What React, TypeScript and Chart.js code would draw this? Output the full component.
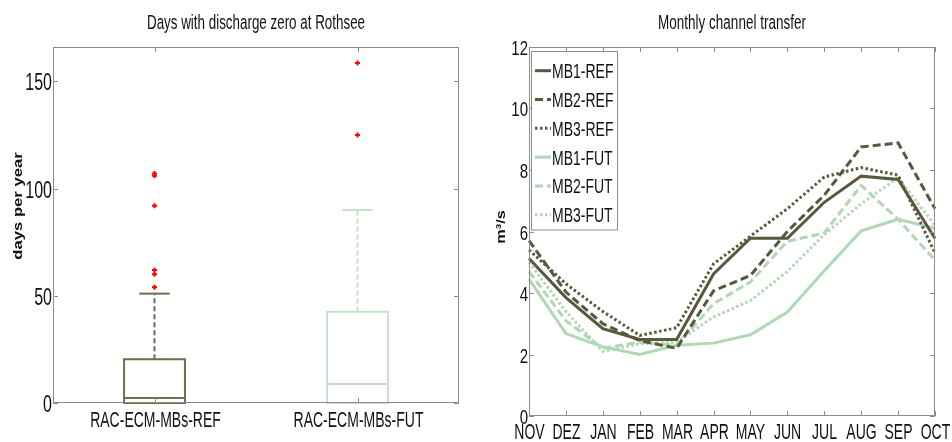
import React, { useEffect, useRef } from "react";
import { Chart, registerables } from "chart.js";

Chart.register(...registerables);

// ---------- Left chart data (box plot) ----------
const BOX_CATEGORIES = ["RAC-ECM-MBs-REF", "RAC-ECM-MBs-FUT"];
const BOX_Q1 = [0, 0];
const BOX_MEDIAN = [2.3, 8.9];
const BOX_Q3 = [20.4, 42.5];
const BOX_WHISKER_LOW = [0, 0];
const BOX_WHISKER_HIGH = [51, 90];
const OUTLIERS_REF = [54, 60, 62, 92, 106, 107];
const OUTLIERS_FUT = [125, 158.5];
const LEFT_Y_TICKS = [0, 50, 100, 150];

// ---------- Right chart data (lines) ----------
const MONTHS = ["NOV", "DEZ", "JAN", "FEB", "MAR", "APR", "MAY", "JUN", "JUL", "AUG", "SEP", "OCT"];
const MB1_REF = [5.12, 3.85, 2.84, 2.49, 2.49, 4.62, 5.78, 5.78, 6.95, 7.8, 7.69, 5.77];
const MB2_REF = [5.7, 4.03, 3.0, 2.45, 2.2, 4.07, 4.57, 6.0, 7.18, 8.75, 8.88, 6.74];
const MB3_REF = [5.4, 4.3, 3.4, 2.62, 2.87, 4.95, 5.85, 6.74, 7.77, 8.08, 7.83, 5.3];
const MB1_FUT = [4.45, 2.68, 2.25, 2.0, 2.3, 2.37, 2.64, 3.38, 4.72, 6.02, 6.4, 6.1];
const MB2_FUT = [4.7, 3.1, 2.2, 2.4, 2.3, 3.65, 4.36, 5.68, 5.95, 7.5, 6.4, 5.06];
const MB3_FUT = [5.0, 3.4, 2.1, 2.35, 2.4, 3.22, 3.75, 4.7, 5.9, 6.9, 7.75, 6.2];
const SERIES_NAMES = ["MB1-REF", "MB2-REF", "MB3-REF", "MB1-FUT", "MB2-FUT", "MB3-FUT"];
const RIGHT_Y_TICKS = [0, 2, 4, 6, 8, 10, 12];

const DARK = "#58583c";
const LIGHT = "#b0d8b3";
const BOX_DARK = "#6e6e50";
const BOX_LIGHT = "#c6e2c6";
const FRAME = "#8c8c8c";
const TEXT = "#111111";
const FONT = '"Liberation Sans", Arial, sans-serif';

function stretchedText(ctx: CanvasRenderingContext2D, text: string, x: number, y: number, size: number, k: number, align: CanvasTextAlign, bold = false) {
  ctx.save();
  ctx.translate(x, y);
  ctx.scale(1, k);
  ctx.font = `${bold ? "bold " : ""}${size}px ${FONT}`;
  ctx.textAlign = align;
  ctx.textBaseline = "alphabetic";
  ctx.fillStyle = TEXT;
  ctx.fillText(text, 0, 0);
  ctx.restore();
}

function verticalText(ctx: CanvasRenderingContext2D, text: string, x: number, y: number, size: number, k: number) {
  ctx.save();
  ctx.translate(x, y);
  ctx.rotate(-Math.PI / 2);
  ctx.scale(k, 1);
  ctx.font = `bold ${size}px ${FONT}`;
  ctx.textAlign = "center";
  ctx.textBaseline = "middle";
  ctx.fillStyle = TEXT;
  ctx.fillText(text, 0, 0);
  ctx.restore();
}

function seg(ctx: CanvasRenderingContext2D, x1: number, y1: number, x2: number, y2: number) {
  ctx.beginPath();
  ctx.moveTo(x1, y1);
  ctx.lineTo(x2, y2);
  ctx.stroke();
}

const boxPlugin = {
  id: "boxDraw",
  beforeDatasetsDraw(chart: any) {
    const { ctx, scales } = chart;
    const x = scales.x;
    const y = scales.y;
    ctx.save();
    BOX_CATEGORIES.forEach((_, i) => {
      const pos = i + 1;
      const color = i === 0 ? BOX_DARK : BOX_LIGHT;
      const cx = x.getPixelForValue(pos);
      const bl = x.getPixelForValue(pos - 0.15);
      const br = x.getPixelForValue(pos + 0.15);
      const cl = x.getPixelForValue(pos - 0.075);
      const cr = x.getPixelForValue(pos + 0.075);
      const yq1 = y.getPixelForValue(BOX_Q1[i]);
      const yq3 = y.getPixelForValue(BOX_Q3[i]);
      const ym = y.getPixelForValue(BOX_MEDIAN[i]);
      const ywh = y.getPixelForValue(BOX_WHISKER_HIGH[i]);
      const ywl = y.getPixelForValue(BOX_WHISKER_LOW[i]);
      ctx.strokeStyle = color;
      ctx.lineWidth = 2;
      ctx.setLineDash([5, 3]);
      seg(ctx, cx, yq3, cx, ywh);
      seg(ctx, cx, yq1, cx, ywl);
      ctx.setLineDash([]);
      seg(ctx, cl, ywh, cr, ywh);
      seg(ctx, cl, ywl, cr, ywl);
      ctx.strokeRect(bl, yq3, br - bl, yq1 - yq3);
      seg(ctx, bl, ym, br, ym);
    });
    ctx.restore();
  },
  afterDraw(chart: any) {
    const { ctx, chartArea: a, scales } = chart;
    const x = scales.x;
    const y = scales.y;
    ctx.save();
    ctx.strokeStyle = FRAME;
    ctx.lineWidth = 1;
    ctx.strokeRect(a.left + 0.5, a.top + 0.5, a.right - a.left - 1, a.bottom - a.top - 1);
    LEFT_Y_TICKS.forEach((v) => {
      const py = Math.round(y.getPixelForValue(v)) + 0.5;
      seg(ctx, a.left, py, a.left + 5, py);
      seg(ctx, a.right - 5, py, a.right, py);
      stretchedText(ctx, String(v), a.left - 1, py + 8.3, 16, 1.45, "right");
    });
    BOX_CATEGORIES.forEach((c, i) => {
      const px = Math.round(x.getPixelForValue(i + 1)) + 0.5;
      ctx.strokeStyle = FRAME;
      seg(ctx, px, a.bottom, px, a.bottom - 5);
      seg(ctx, px, a.top, px, a.top + 5);
      stretchedText(ctx, c, px, 427, 14, 1.6, "center");
    });
    stretchedText(ctx, "Days with discharge zero at Rothsee", (a.left + a.right) / 2, 29, 13.4, 1.45, "center");
    verticalText(ctx, "days per year", 18, 206, 13, 1.28);
    ctx.restore();
  },
};

const lineFramePlugin = {
  id: "lineFrame",
  afterDraw(chart: any) {
    const { ctx, chartArea: a, scales } = chart;
    const x = scales.x;
    const y = scales.y;
    ctx.save();
    ctx.strokeStyle = FRAME;
    ctx.lineWidth = 1;
    ctx.strokeRect(a.left + 0.5, a.top + 0.5, a.right - a.left - 1, a.bottom - a.top - 1);
    RIGHT_Y_TICKS.forEach((v) => {
      const py = Math.round(y.getPixelForValue(v)) + 0.5;
      ctx.strokeStyle = FRAME;
      seg(ctx, a.left, py, a.left + 5, py);
      seg(ctx, a.right - 5, py, a.right, py);
      stretchedText(ctx, String(v), a.left - 1, py + 7.5, 15, 1.4, "right");
    });
    MONTHS.forEach((m, i) => {
      const px = Math.round(x.getPixelForValue(i)) + 0.5;
      ctx.strokeStyle = FRAME;
      seg(ctx, px, a.bottom, px, a.bottom - 5);
      seg(ctx, px, a.top, px, a.top + 5);
      stretchedText(ctx, m, px, 439, 14, 1.6, "center");
    });
    stretchedText(ctx, "Monthly channel transfer", (a.left + a.right) / 2, 29, 13.5, 1.45, "center");
    verticalText(ctx, "m³/s", 25, 227, 13, 1.25);

    // legend
    const lx = 55.5, ly = 51.5, lw = 86, lh = 178.5;
    ctx.fillStyle = "#ffffff";
    ctx.fillRect(lx, ly, lw, lh);
    ctx.strokeStyle = FRAME;
    ctx.lineWidth = 1;
    ctx.strokeRect(lx, ly, lw, lh);
    chart.data.datasets.forEach((ds: any, i: number) => {
      const cy = 70.7 + i * 28.8;
      ctx.save();
      ctx.strokeStyle = ds.borderColor;
      ctx.lineWidth = ds.borderWidth;
      ctx.setLineDash(ds.borderDash || []);
      seg(ctx, 59, cy, 75, cy);
      ctx.restore();
      stretchedText(ctx, ds.label, 76, cy + 7.5, 14, 1.5, "left");
    });
    ctx.restore();
  },
};

function BoxChart() {
  const ref = useRef<HTMLCanvasElement>(null);
  useEffect(() => {
    if (!ref.current) return;
    const chart = new Chart(ref.current, {
      type: "scatter",
      data: {
        datasets: [
          {
            label: "REF outliers",
            data: OUTLIERS_REF.map((v) => ({ x: 1, y: v })),
            pointStyle: "cross",
            pointRadius: 2.5,
            borderColor: "#ff0000",
            backgroundColor: "#ff0000",
            borderWidth: 2,
          },
          {
            label: "FUT outliers",
            data: OUTLIERS_FUT.map((v) => ({ x: 2, y: v })),
            pointStyle: "cross",
            pointRadius: 2.5,
            borderColor: "#ff0000",
            backgroundColor: "#ff0000",
            borderWidth: 2,
          },
        ],
      },
      options: {
        responsive: false,
        animation: false,
        layout: { padding: { left: 53, right: 17, top: 47, bottom: 39 } },
        plugins: { legend: { display: false }, tooltip: { enabled: false }, title: { display: false } },
        scales: {
          x: { type: "linear", min: 0.5, max: 2.5, display: false },
          y: { type: "linear", min: 0, max: 166, display: false },
        },
      },
      plugins: [boxPlugin],
    });
    return () => chart.destroy();
  }, []);
  return <canvas ref={ref} width={476} height={442} style={{ display: "block" }} />;
}

function LineChart() {
  const ref = useRef<HTMLCanvasElement>(null);
  useEffect(() => {
    if (!ref.current) return;
    const series = [MB1_REF, MB2_REF, MB3_REF, MB1_FUT, MB2_FUT, MB3_FUT];
    const dashes = [[], [8, 4], [2.5, 2.5], [], [8, 4], [2.5, 2.5]];
    const chart = new Chart(ref.current, {
      type: "line",
      data: {
        labels: MONTHS,
        datasets: series.map((d, i) => ({
          label: SERIES_NAMES[i],
          data: d,
          borderColor: i < 3 ? DARK : LIGHT,
          borderWidth: 3,
          borderDash: dashes[i],
          pointRadius: 0,
          tension: 0,
          fill: false,
        })),
      },
      options: {
        responsive: false,
        animation: false,
        layout: { padding: { left: 53, right: 17, top: 47, bottom: 26 } },
        plugins: { legend: { display: false }, tooltip: { enabled: false }, title: { display: false } },
        scales: {
          x: { type: "category", display: false, offset: false },
          y: { type: "linear", min: 0, max: 12, display: false },
        },
      },
      plugins: [lineFramePlugin],
    });
    return () => chart.destroy();
  }, []);
  return <canvas ref={ref} width={476} height={442} style={{ display: "block" }} />;
}

export default function App() {
  return (
    <div style={{ position: "absolute", left: 0, top: 0, width: 952, height: 442, display: "flex", background: "#ffffff" }}>
      <BoxChart />
      <LineChart />
    </div>
  );
}
